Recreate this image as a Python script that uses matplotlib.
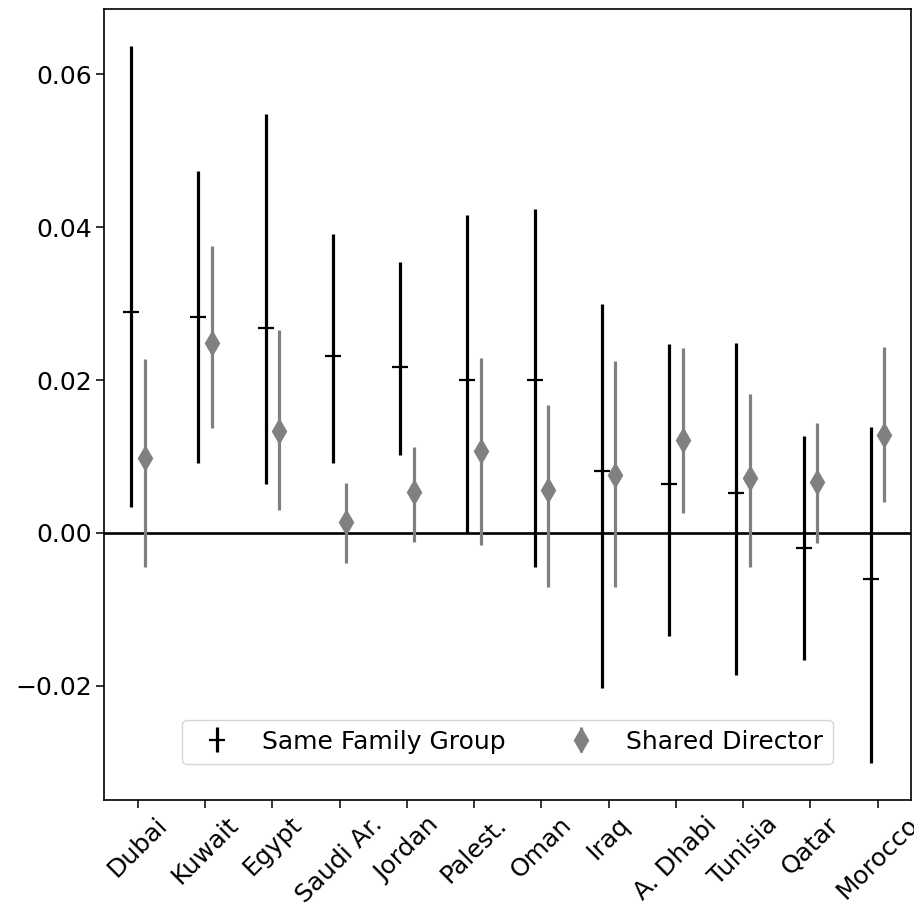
import matplotlib
matplotlib.use("Agg")
import matplotlib.pyplot as plt
import numpy as np

regions = ["Dubai", "Kuwait", "Egypt", "Saudi Ar.", "Jordan", "Palest.", "Oman",
           "Iraq", "A. Dhabi", "Tunisia", "Qatar", "Morocco"]

# Same Family Group: estimate, lower bound, upper bound
fam_est = [0.0289, 0.0282, 0.0268, 0.0231, 0.0217, 0.0200, 0.0200, 0.0081, 0.0064, 0.0052, -0.0020, -0.0060]
fam_lo  = [0.0034, 0.0092, 0.0064, 0.0092, 0.0102, 0.0000, -0.0044, -0.0203, -0.0135, -0.0186, -0.0166, -0.0301]
fam_hi  = [0.0637, 0.0473, 0.0548, 0.0391, 0.0354, 0.0416, 0.0424, 0.0299, 0.0247, 0.0248, 0.0127, 0.0139]

# Shared Director: estimate, lower bound, upper bound
dir_est = [0.0098, 0.0248, 0.0133, 0.0014, 0.0054, 0.0107, 0.0056, 0.0076, 0.0122, 0.0072, 0.0067, 0.0128]
dir_lo  = [-0.0044, 0.0137, 0.0030, -0.0039, -0.0012, -0.0016, -0.0071, -0.0071, 0.0026, -0.0044, -0.0013, 0.0040]
dir_hi  = [0.0227, 0.0375, 0.0265, 0.0065, 0.0112, 0.0229, 0.0167, 0.0225, 0.0242, 0.0182, 0.0144, 0.0243]

x = np.arange(len(regions))
fam_est = np.array(fam_est); fam_lo = np.array(fam_lo); fam_hi = np.array(fam_hi)
dir_est = np.array(dir_est); dir_lo = np.array(dir_lo); dir_hi = np.array(dir_hi)

fs = 18
fig = plt.figure(figsize=(9.14, 9.11), dpi=100)
ax = fig.add_axes([0.114, 0.122, 0.883, 0.868])

ax.axhline(0, color="black", lw=1.9, zorder=1)

ax.errorbar(x - 0.1, fam_est, yerr=[fam_est - fam_lo, fam_hi - fam_est],
            fmt="_", color="black", ecolor="black", elinewidth=2.3,
            markersize=11, markeredgewidth=1.6, capsize=0,
            label="Same Family Group", zorder=3)
ax.errorbar(x + 0.1, dir_est, yerr=[dir_est - dir_lo, dir_hi - dir_est],
            fmt="d", color="gray", ecolor="gray", elinewidth=2.3,
            markersize=12, capsize=0,
            label="Shared Director", zorder=3)

ax.set_xlim(-0.5, 11.5)
ax.set_ylim(-0.0349, 0.0685)
ax.set_xticks(x)
ax.set_xticklabels(regions, rotation=45, ha="center", fontsize=fs)
ax.set_yticks([-0.02, 0.0, 0.02, 0.04, 0.06])
ax.set_yticklabels(["\u22120.02", "0.00", "0.02", "0.04", "0.06"], fontsize=fs)
ax.tick_params(length=5.5, width=1.1)
for s in ax.spines.values():
    s.set_linewidth(1.2)

ax.legend(loc="lower center", bbox_to_anchor=(0.5, 0.03), ncol=2, fontsize=fs)

fig.savefig("out.png", dpi=100)
